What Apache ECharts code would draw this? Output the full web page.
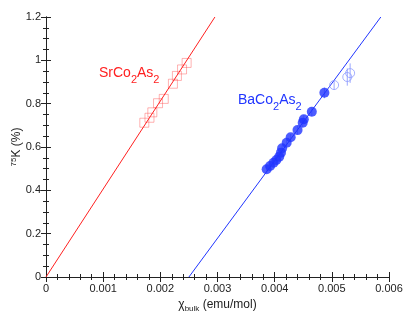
<!DOCTYPE html>
<html>
<head>
<meta charset="UTF-8">
<title>75K vs chi bulk</title>
<script src="https://cdn.jsdelivr.net/npm/echarts@6/dist/echarts.min.js"></script>
<style>
  html, body { margin: 0; padding: 0; background: #fff; }
  #chart { width: 415px; height: 321px; }
</style>
</head>
<body>
<div id="chart"></div>
<script>
// SrCo2As2 (open squares)
var srChi = [0.00172, 0.00181, 0.00186, 0.00196, 0.00206, 0.00222, 0.00229, 0.00238, 0.00246];
var srK   = [0.712, 0.735, 0.760, 0.802, 0.822, 0.892, 0.928, 0.958, 0.988];

// BaCo2As2 (filled circles)
var baChi = [0.00386, 0.00392, 0.00398, 0.00403, 0.00408, 0.00411, 0.00413, 0.00421, 0.00428, 0.00440, 0.00449, 0.00451, 0.00465, 0.00487];
var baK   = [0.497, 0.512, 0.527, 0.540, 0.555, 0.574, 0.594, 0.620, 0.645, 0.678, 0.712, 0.728, 0.763, 0.850];
var baErr = [0.015, 0.015, 0.015, 0.015, 0.015, 0.015, 0.015, 0.015, 0.015, 0.02, 0.02, 0.02, 0.02, 0.025];

// BaCo2As2 (open circles, larger error)
var baOpenChi = [0.00504, 0.00527, 0.00532];
var baOpenK   = [0.886, 0.923, 0.941];
var baOpenErr = [0.022, 0.04, 0.045];

// fit lines
var srLineChi = [0, 0.002955];
var srLineK   = [0, 1.2];
var baLineChi = [0.0025, 0.005857];
var baLineK   = [0, 1.2];

var xTicks = { min: 0, max: 0.006, interval: 0.001 };
var yTicks = { min: 0, max: 1.2, interval: 0.2 };

var FONT = 'Liberation Sans';
var RED = '#ff2020';
var BLUE = '#2035ff';

function zip(a, b) {
  var out = [];
  for (var i = 0; i < a.length; i++) out.push([a[i], b[i]]);
  return out;
}
function zip3(a, b, c) {
  var out = [];
  for (var i = 0; i < a.length; i++) out.push([a[i], b[i], c[i]]);
  return out;
}

function errorBar(color) {
  return function(params, api) {
    var x = api.value(0), y = api.value(1), e = api.value(2);
    var hi = api.coord([x, y + e]);
    var lo = api.coord([x, y - e]);
    return {
      type: 'line',
      shape: { x1: hi[0], y1: hi[1], x2: lo[0], y2: lo[1] },
      style: { stroke: color, lineWidth: 1 }
    };
  };
}

var chart = echarts.init(document.getElementById('chart'));

var axisCommon = {
  axisLine: { show: true, lineStyle: { color: '#222', width: 1 } },
  axisTick: { show: true, inside: true, length: 5, lineStyle: { color: '#222' } },
  minorTick: { show: true, length: 3, lineStyle: { color: '#222' } },
  splitLine: { show: false }
};

chart.setOption({
  animation: false,
  backgroundColor: '#fff',
  grid: { left: 46, right: 26, top: 17, bottom: 44, outerBoundsMode: 'none', containLabel: false },
  xAxis: [
    Object.assign({}, axisCommon, {
      type: 'value', position: 'bottom',
      min: xTicks.min, max: xTicks.max, interval: xTicks.interval,
      minorTick: Object.assign({}, axisCommon.minorTick, { splitNumber: 5 }),
      axisLabel: { color: '#222', fontFamily: FONT, fontSize: 11, margin: 6 },
      name: '{c|χ}{s|bulk}{t| (emu/mol)}',
      nameLocation: 'middle', nameGap: 20, nameMoveOverlap: false,
      nameTextStyle: {
        fontFamily: FONT, color: '#222',
        rich: {
          c: { fontFamily: FONT, fontSize: 12, color: '#222' },
          s: { fontFamily: FONT, fontSize: 8, color: '#222', padding: [8, 0, 0, 0] },
          t: { fontFamily: FONT, fontSize: 12, color: '#222' }
        }
      }
    }),
    Object.assign({}, axisCommon, {
      type: 'value', position: 'top',
      min: xTicks.min, max: xTicks.max, interval: xTicks.interval,
      minorTick: Object.assign({}, axisCommon.minorTick, { splitNumber: 5 }),
      axisLabel: { show: false }
    })
  ],
  yAxis: [
    Object.assign({}, axisCommon, {
      type: 'value', position: 'left',
      min: yTicks.min, max: yTicks.max, interval: yTicks.interval,
      minorTick: Object.assign({}, axisCommon.minorTick, { splitNumber: 4 }),
      axisLabel: { color: '#222', fontFamily: FONT, fontSize: 11, margin: 5 },
      name: '{u|75}{t|K (%)}',
      nameLocation: 'middle', nameGap: 29, nameRotate: 90, nameMoveOverlap: false,
      nameTextStyle: {
        fontFamily: FONT, color: '#222', verticalAlign: 'middle',
        rich: {
          u: { fontFamily: FONT, fontSize: 8, color: '#222', padding: [0, 0, 7, 0] },
          t: { fontFamily: FONT, fontSize: 12, color: '#222' }
        }
      }
    }),
    Object.assign({}, axisCommon, {
      type: 'value', position: 'right',
      min: yTicks.min, max: yTicks.max, interval: yTicks.interval,
      minorTick: Object.assign({}, axisCommon.minorTick, { splitNumber: 4 }),
      axisLabel: { show: false }
    })
  ],
  series: [
    {
      type: 'line', data: zip(srLineChi, srLineK), symbol: 'none',
      lineStyle: { color: RED, width: 1 }, silent: true, z: 3
    },
    {
      type: 'line', data: zip(baLineChi, baLineK), symbol: 'none',
      lineStyle: { color: BLUE, width: 1 }, silent: true, z: 3
    },
    {
      type: 'scatter', data: zip(srChi, srK), symbol: 'rect', symbolSize: 9,
      itemStyle: { color: 'rgba(0,0,0,0)', borderColor: 'rgba(255,80,80,0.55)', borderWidth: 1 },
      z: 2
    },
    {
      type: 'custom', data: zip3(baChi, baK, baErr), renderItem: errorBar('#9aa6ff'), z: 1
    },
    {
      type: 'custom', data: zip3(baOpenChi, baOpenK, baOpenErr), renderItem: errorBar('#9aa6ff'), z: 1
    },
    {
      type: 'scatter', data: zip(baChi, baK), symbol: 'circle', symbolSize: 10,
      itemStyle: { color: BLUE }, z: 4
    },
    {
      type: 'scatter', data: zip(baOpenChi, baOpenK), symbol: 'circle', symbolSize: 9,
      itemStyle: { color: 'rgba(0,0,0,0)', borderColor: '#8f9cff', borderWidth: 1 }, z: 4
    }
  ],
  graphic: [
    {
      type: 'text', left: 99, top: 66,
      style: {
        text: '{m|SrCo}{s|2}{m|As}{s|2}',
        rich: {
          m: { fontFamily: FONT, fontSize: 14, fill: RED },
          s: { fontFamily: FONT, fontSize: 11, fill: RED, padding: [14, 0, 0, 0] }
        }
      }
    },
    {
      type: 'text', left: 238, top: 93,
      style: {
        text: '{m|BaCo}{s|2}{m|As}{s|2}',
        rich: {
          m: { fontFamily: FONT, fontSize: 14, fill: BLUE },
          s: { fontFamily: FONT, fontSize: 11, fill: BLUE, padding: [14, 0, 0, 0] }
        }
      }
    }
  ]
});
</script>
</body>
</html>
